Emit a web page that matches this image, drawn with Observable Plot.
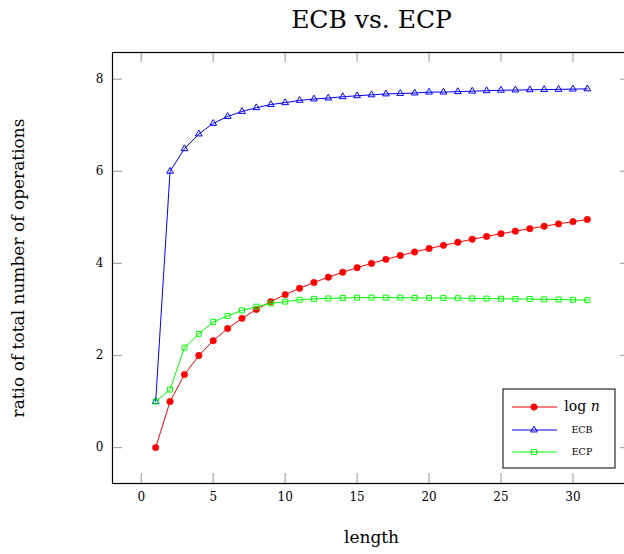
<!DOCTYPE html>
<html>
<head>
<meta charset="utf-8">
<script src="https://cdn.jsdelivr.net/npm/d3@7"></script>
<script src="https://cdn.jsdelivr.net/npm/@observablehq/plot@0.6"></script>
<style>
  html, body { margin: 0; padding: 0; background: #fff; overflow: hidden; }
  #chart { width: 624px; height: 554px; overflow: hidden; }
</style>
</head>
<body>
<div id="chart"></div>
<script>
const title = "ECB vs. ECP";
const xLabel = "length";
const yLabel = "ratio of total number of operations";
const xTicks = [0, 5, 10, 15, 20, 25, 30];
const yTicks = [0, 2, 4, 6, 8];

const lengths = [1,2,3,4,5,6,7,8,9,10,11,12,13,14,15,16,17,18,19,20,21,22,23,24,25,26,27,28,29,30,31];
const logN = [0,1,1.585,2,2.322,2.585,2.807,3,3.17,3.322,3.459,3.585,3.7,3.807,3.907,4,4.087,4.17,4.248,4.322,4.392,4.459,4.524,4.585,4.644,4.7,4.755,4.807,4.858,4.907,4.954];
const ecb = [1,6.0,6.49,6.81,7.04,7.19,7.30,7.38,7.45,7.49,7.54,7.57,7.59,7.62,7.64,7.66,7.68,7.69,7.70,7.72,7.72,7.73,7.74,7.75,7.76,7.765,7.77,7.775,7.78,7.785,7.79];
const ecp = [1,1.26,2.17,2.47,2.73,2.86,2.98,3.06,3.13,3.17,3.21,3.23,3.24,3.25,3.255,3.257,3.257,3.255,3.25,3.25,3.248,3.245,3.24,3.235,3.232,3.228,3.225,3.22,3.215,3.21,3.20];

const seriesNames = ["log n", "ECB", "ECP"];
const seriesColors = ["#ff0000", "#0000ff", "#00ff00"];

const toRows = vals => lengths.map((n, i) => ({n, v: vals[i]}));
const rowsLog = toRows(logN), rowsEcb = toRows(ecb), rowsEcp = toRows(ecp);

const FONT = "'DejaVu Serif', 'Liberation Serif', serif";
const tickColor = "#a8a8a8";

const plot = Plot.plot({
  width: 630,
  height: 554,
  marginLeft: 112,
  marginRight: 0,
  marginTop: 52,
  marginBottom: 71,
  style: {fontFamily: FONT, fontSize: "12px", color: "black", background: "white", maxWidth: "none"},
  x: {domain: [-2, 34]},
  y: {domain: [-0.78, 8.58]},
  marks: [
    Plot.ruleX(xTicks, {insetTop: 421, stroke: tickColor, strokeWidth: 1.2}),
    Plot.ruleX(xTicks, {insetBottom: 421, stroke: tickColor, strokeWidth: 1.2}),
    Plot.ruleY(yTicks, {insetRight: 508, stroke: tickColor, strokeWidth: 1.2}),
    Plot.ruleY(yTicks, {insetLeft: 508, stroke: tickColor, strokeWidth: 1.2}),
    Plot.axisX(xTicks, {anchor: "bottom", tickSize: 0, tickPadding: 9, label: null, fill: "black", fontFamily: FONT, fontSize: 12}),
    Plot.axisY(yTicks, {anchor: "left", tickSize: 0, tickPadding: 9, label: null, fill: "black", fontFamily: FONT, fontSize: 12}),
    Plot.line(rowsLog, {x: "n", y: "v", stroke: seriesColors[0], strokeWidth: 1}),
    Plot.dot(rowsLog, {x: "n", y: "v", r: 3.2, fill: seriesColors[0], stroke: seriesColors[0], strokeWidth: 0.6}),
    Plot.line(rowsEcb, {x: "n", y: "v", stroke: seriesColors[1], strokeWidth: 1}),
    Plot.dot(rowsEcb, {x: "n", y: "v", r: 2.5, symbol: "triangle", fill: "none", stroke: seriesColors[1], strokeWidth: 1}),
    Plot.line(rowsEcp, {x: "n", y: "v", stroke: seriesColors[2], strokeWidth: 1}),
    Plot.dot(rowsEcp, {x: "n", y: "v", r: 2.8, symbol: "square", fill: "none", stroke: seriesColors[2], strokeWidth: 1}),
    Plot.frame({stroke: "black", strokeWidth: 1.2}),
    Plot.text([title], {frameAnchor: "top", dy: -32.5, textAnchor: "middle", lineAnchor: "middle", fontSize: 25, fill: "black", fontFamily: FONT}),
    Plot.text([xLabel], {frameAnchor: "bottom", dy: 54, textAnchor: "middle", lineAnchor: "middle", fontSize: 17, fill: "black", fontFamily: FONT}),
    Plot.text([yLabel], {frameAnchor: "left", dx: -93.5, rotate: -90, textAnchor: "middle", lineAnchor: "middle", fontSize: 17, fill: "black", fontFamily: FONT})
  ]
});

// Legend (south east, inside frame)
const svg = d3.select(plot);
const lg = svg.append("g").attr("transform", "translate(503,389)").attr("font-family", FONT);
lg.append("rect").attr("x", 0).attr("y", 0).attr("width", 112).attr("height", 79)
  .attr("fill", "white").attr("stroke", "black").attr("stroke-width", 1);
const rowY = [18, 41, 63];
const symbols = [d3.symbolCircle, d3.symbolTriangle, d3.symbolSquare];
const rs = [3.2, 2.5, 2.8];
const fills = [seriesColors[0], "none", "none"];
seriesNames.forEach((name, i) => {
  const row = lg.append("g").attr("transform", `translate(0,${rowY[i]})`);
  row.append("line").attr("x1", 9).attr("x2", 54).attr("y1", 0).attr("y2", 0)
    .attr("stroke", seriesColors[i]).attr("stroke-width", 1);
  row.append("path").attr("transform", "translate(31,0)")
    .attr("d", d3.symbol(symbols[i], Math.PI * rs[i] * rs[i])())
    .attr("fill", fills[i]).attr("stroke", seriesColors[i]).attr("stroke-width", i === 0 ? 0.6 : 1);
  const t = row.append("text").attr("x", 79).attr("text-anchor", "middle").attr("fill", "black");
  if (i === 0) {
    t.attr("font-size", 14).attr("dy", "0.32em");
    t.append("tspan").text("log ");
    t.append("tspan").attr("font-style", "italic").text("n");
  } else {
    t.attr("font-size", 9.5).attr("dy", "0.35em").text(name);
  }
});

document.getElementById("chart").appendChild(plot);
</script>
</body>
</html>
